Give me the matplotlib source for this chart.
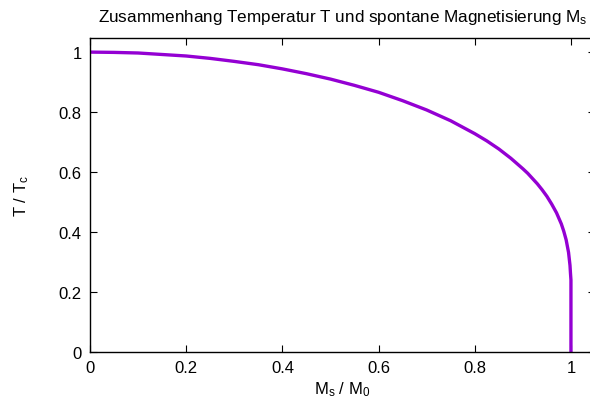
import matplotlib
matplotlib.use("Agg")
import matplotlib.pyplot as plt

plt.rcParams['font.family'] = ['Liberation Sans', 'DejaVu Sans']
plt.rcParams['mathtext.fontset'] = 'custom'
plt.rcParams['mathtext.rm'] = 'Liberation Sans'
plt.rcParams['mathtext.it'] = 'Liberation Sans'

# spontaneous magnetisation M_s/M_0 and temperature T/T_c
ms_m0 = [0.0, 0.05, 0.1, 0.15, 0.2, 0.25, 0.3, 0.35, 0.4, 0.45, 0.5, 0.55,
         0.6, 0.65, 0.7, 0.75, 0.8, 0.825, 0.85, 0.875, 0.9, 0.91, 0.93,
         0.94, 0.95, 0.96, 0.97, 0.98, 0.985, 0.99, 0.995, 0.998, 0.999,
         1.0, 1.0]
t_tc = [1.0, 0.999, 0.997, 0.992, 0.987, 0.979, 0.969, 0.958, 0.944, 0.928,
        0.910, 0.889, 0.866, 0.838, 0.807, 0.771, 0.728, 0.704, 0.677, 0.646,
        0.611, 0.596, 0.561, 0.541, 0.519, 0.493, 0.464, 0.427, 0.403, 0.374,
        0.332, 0.289, 0.263, 0.24, 0.0]

xticks = [0, 0.2, 0.4, 0.6, 0.8, 1]
xticklabels = ['0', '0.2', '0.4', '0.6', '0.8', '1']
yticks = [0, 0.2, 0.4, 0.6, 0.8, 1]
yticklabels = ['0', '0.2', '0.4', '0.6', '0.8', '1']

fig = plt.figure(figsize=(5.9, 4.1), dpi=100)
ax = fig.add_axes([90 / 590, 1 - 353 / 410, 505 / 590, 314 / 410])

ax.plot(ms_m0, t_tc, color='#9400D3', linewidth=2.4, solid_capstyle='butt',
        solid_joinstyle='round')

ax.set_xlim(0, 1.05)
ax.set_ylim(0, 1.047)
ax.set_xticks(xticks)
ax.set_xticklabels(xticklabels)
ax.set_yticks(yticks)
ax.set_yticklabels(yticklabels)
ax.tick_params(direction='in', length=5, width=0.8, top=True, right=True,
               labelsize=12, pad=6)
for s in ax.spines.values():
    s.set_linewidth(1.0)

ax.set_xlabel(r'M$_\mathrm{s}$ / M$_\mathrm{0}$', fontsize=12, labelpad=3)
ax.set_ylabel(r'T / T$_\mathrm{c}$', fontsize=12, labelpad=20)
ax.set_title(r'Zusammenhang Temperatur T und spontane Magnetisierung M$_\mathrm{s}$',
             fontsize=12.3, pad=12)

fig.savefig('out.png', dpi=100)
